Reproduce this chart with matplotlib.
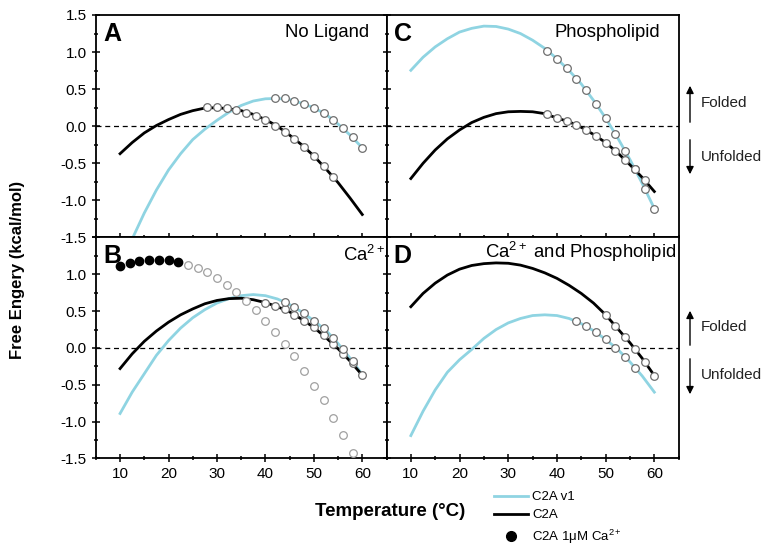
import numpy as np
import matplotlib.pyplot as plt
from matplotlib.lines import Line2D
from matplotlib.patches import FancyArrowPatch
from matplotlib.ticker import MultipleLocator

plt.rcParams['font.family'] = ['Liberation Sans', 'DejaVu Sans']
plt.rcParams['mathtext.fontset'] = 'custom'
plt.rcParams['mathtext.rm'] = 'Liberation Sans'
plt.rcParams['mathtext.it'] = 'Liberation Sans:italic'
plt.rcParams['mathtext.bf'] = 'Liberation Sans:bold'

blue = '#8fd4e2'
black = '#000000'
ring = '#6e6e6e'
ring_light = '#a0a0a0'

# ---- fitted curves (sampled every 2.5 degC) ----
T = [10, 12.5, 15, 17.5, 20, 22.5, 25, 27.5, 30, 32.5, 35,
     37.5, 40, 42.5, 45, 47.5, 50, 52.5, 55, 57.5, 60]

a_v1 = [-1.95, -1.52, -1.17, -0.86, -0.59, -0.37, -0.18, -0.04, 0.08, 0.19, 0.28,
        0.34, 0.37, 0.375, 0.36, 0.31, 0.25, 0.16, 0.03, -0.12, -0.29]
a_wt = [-0.37, -0.22, -0.09, 0.01, 0.09, 0.16, 0.21, 0.245, 0.25, 0.235, 0.21,
        0.16, 0.09, 0.0, -0.12, -0.25, -0.40, -0.575, -0.76, -0.97, -1.19]

b_v1 = [-0.89, -0.60, -0.35, -0.10, 0.10, 0.27, 0.41, 0.52, 0.61, 0.67, 0.71,
        0.725, 0.71, 0.665, 0.59, 0.49, 0.37, 0.24, 0.06, -0.14, -0.36]
b_wt = [-0.28, -0.08, 0.09, 0.23, 0.35, 0.45, 0.53, 0.60, 0.645, 0.67, 0.675,
        0.655, 0.616, 0.56, 0.49, 0.39, 0.28, 0.14, -0.01, -0.18, -0.37]

c_v1 = [0.754, 0.93, 1.07, 1.18, 1.27, 1.32, 1.35, 1.345, 1.31, 1.25, 1.16,
        1.05, 0.91, 0.75, 0.57, 0.35, 0.11, -0.16, -0.45, -0.77, -1.11]
c_wt = [-0.705, -0.50, -0.32, -0.17, -0.05, 0.05, 0.12, 0.17, 0.195, 0.20, 0.195,
        0.17, 0.11, 0.06, -0.015, -0.11, -0.22, -0.36, -0.52, -0.69, -0.88]

d_v1 = [-1.19, -0.86, -0.57, -0.33, -0.16, -0.02, 0.13, 0.25, 0.34, 0.40, 0.44,
        0.45, 0.44, 0.40, 0.33, 0.235, 0.116, -0.02, -0.19, -0.38, -0.60]
d_wt = [0.56, 0.74, 0.88, 0.99, 1.07, 1.12, 1.145, 1.155, 1.15, 1.125, 1.08,
        1.02, 0.945, 0.85, 0.74, 0.61, 0.45, 0.26, 0.07, -0.14, -0.375]

# ---- measured points ----
a_wt_T = [28, 30, 32, 34, 36, 38, 40, 42, 44, 46, 48, 50, 52, 54]
a_wt_G = [0.254, 0.254, 0.241, 0.219, 0.183, 0.143, 0.085, 0.01, -0.08, -0.17,
          -0.28, -0.40, -0.54, -0.68]
a_v1_T = [42, 44, 46, 48, 50, 52, 54, 56, 58, 60]
a_v1_G = [0.375, 0.375, 0.344, 0.30, 0.25, 0.174, 0.089, -0.027, -0.147, -0.29]

b_ca_T = [10, 12, 14, 16, 18, 20, 22]
b_ca_G = [1.116, 1.152, 1.183, 1.196, 1.196, 1.188, 1.17]
b_ca_open_T = [24, 26, 28, 30, 32, 34, 36, 38, 40, 42, 44, 46, 48, 50, 52, 54, 56, 58]
b_ca_open_G = [1.13, 1.085, 1.03, 0.95, 0.86, 0.76, 0.64, 0.51, 0.37, 0.22, 0.06,
               -0.11, -0.31, -0.51, -0.71, -0.95, -1.18, -1.43]
b_wt_T = [40, 42, 44, 46, 48, 50, 52, 54, 56, 58, 60]
b_wt_G = [0.616, 0.57, 0.527, 0.45, 0.37, 0.28, 0.17, 0.058, -0.076, -0.21, -0.366]
b_v1_T = [44, 46, 48, 50, 52, 54, 56, 58]
b_v1_G = [0.62, 0.56, 0.48, 0.37, 0.27, 0.13, -0.02, -0.18]

c_v1_T = [38, 40, 42, 44, 46, 48, 50, 52, 54, 56, 58, 60]
c_v1_G = [1.02, 0.91, 0.78, 0.64, 0.49, 0.30, 0.11, -0.10, -0.33, -0.58, -0.84, -1.11]
c_wt_T = [38, 40, 42, 44, 46, 48, 50, 52, 54, 56, 58]
c_wt_G = [0.165, 0.11, 0.076, 0.018, -0.05, -0.13, -0.22, -0.33, -0.46, -0.58, -0.73]

d_wt_T = [50, 52, 54, 56, 58, 60]
d_wt_G = [0.45, 0.295, 0.147, -0.01, -0.19, -0.375]
d_v1_T = [44, 46, 48, 50, 52, 54, 56]
d_v1_G = [0.36, 0.295, 0.214, 0.116, 0.004, -0.12, -0.27]

yticks = [-1.5, -1.0, -0.5, 0.0, 0.5, 1.0, 1.5]
ytick_labels = ['-1.5', '-1.0', '-0.5', '0.0', '0.5', '1.0', '1.5']

fig = plt.figure(figsize=(7.73, 5.49), dpi=100)
L, M, R = 0.124, 0.500, 0.878
B0, M2, T0 = 0.165, 0.5674, 0.9727
axA = fig.add_axes([L, M2, M - L, T0 - M2])
axB = fig.add_axes([L, B0, M - L, M2 - B0])
axC = fig.add_axes([M, M2, R - M, T0 - M2])
axD = fig.add_axes([M, B0, R - M, M2 - B0])


def open_pts(ax, x, y, ec=ring):
    ax.plot(x, y, 'o', ms=5.5, mfc='white', mec=ec, mew=0.9, ls='none', zorder=4)


def style(ax, xlabels, ylabels):
    ax.set_xlim(5, 65)
    ax.set_ylim(-1.5, 1.5)
    ax.axhline(0, color='black', lw=0.9, ls=(0, (4, 3)), zorder=1)
    ax.xaxis.set_major_locator(MultipleLocator(10))
    ax.xaxis.set_minor_locator(MultipleLocator(5))
    ax.yaxis.set_major_locator(MultipleLocator(0.5))
    ax.yaxis.set_minor_locator(MultipleLocator(0.25))
    ax.tick_params(which='both', direction='inout', width=1.1, labelsize=11)
    ax.tick_params(which='major', length=6)
    ax.tick_params(which='minor', length=3.5)
    for s in ax.spines.values():
        s.set_linewidth(1.3)
    if not xlabels:
        ax.tick_params(labelbottom=False)
    else:
        ax.set_xticks([10, 20, 30, 40, 50, 60])
    if not ylabels:
        ax.tick_params(labelleft=False)
    else:
        ax.set_yticks(yticks)
        ax.set_yticklabels(ytick_labels)


# A
axA.plot(T, a_v1, color=blue, lw=2, zorder=2)
axA.plot(T, a_wt, color=black, lw=2, zorder=3)
open_pts(axA, a_wt_T, a_wt_G)
open_pts(axA, a_v1_T, a_v1_G)
style(axA, False, True)

# B
axB.plot(T, b_v1, color=blue, lw=2, zorder=2)
axB.plot(T, b_wt, color=black, lw=2, zorder=3)
open_pts(axB, b_ca_open_T, b_ca_open_G, ec=ring_light)
open_pts(axB, b_wt_T, b_wt_G)
open_pts(axB, b_v1_T, b_v1_G)
axB.plot(b_ca_T, b_ca_G, 'o', ms=6, color='black', ls='none', zorder=5)
style(axB, True, True)
axB.set_yticklabels(ytick_labels[:-1] + [''])

# C
axC.plot(T, c_v1, color=blue, lw=2, zorder=2)
axC.plot(T, c_wt, color=black, lw=2, zorder=3)
open_pts(axC, c_wt_T, c_wt_G)
open_pts(axC, c_v1_T, c_v1_G)
style(axC, False, False)

# D
axD.plot(T, d_v1, color=blue, lw=2, zorder=2)
axD.plot(T, d_wt, color=black, lw=2, zorder=3)
open_pts(axD, d_wt_T, d_wt_G)
open_pts(axD, d_v1_T, d_v1_G)
style(axD, True, False)

# panel letters and titles
for ax, letter in [(axA, 'A'), (axB, 'B'), (axC, 'C'), (axD, 'D')]:
    ax.text(0.025, 0.97, letter, transform=ax.transAxes, fontsize=18,
            fontweight='bold', ha='left', va='top')
axA.text(0.94, 0.92, 'No Ligand', transform=axA.transAxes, fontsize=13.3,
         ha='right', va='center')
axB.text(0.995, 0.92, 'Ca$^{2+}$', transform=axB.transAxes, fontsize=13.3,
         ha='right', va='center')
axC.text(0.935, 0.92, 'Phospholipid', transform=axC.transAxes, fontsize=13.3,
         ha='right', va='center')
axD.text(0.99, 0.935, 'Ca$^{2+}$ and Phospholipid', transform=axD.transAxes,
         fontsize=13.3, ha='right', va='center')

fig.text(0.022, 0.508, 'Free Engery (kcal/mol)', rotation=90, fontsize=12,
         fontweight='bold', ha='center', va='center')
fig.text(0.505, 0.068, 'Temperature (\u00b0C)', fontsize=13.5,
         fontweight='bold', ha='center', va='center')

# Folded / Unfolded arrows
W, H = 773, 549
for up_top, up_bot, dn_top, dn_bot, fy, uy in [(83, 125, 137, 177, 103, 157),
                                              (308, 348, 356, 397, 327, 375)]:
    x = 690 / W
    fig.add_artist(FancyArrowPatch(
        (x, 1 - up_bot / H), (x, 1 - up_top / H), transform=fig.transFigure,
        arrowstyle='-|>', mutation_scale=11, lw=1, color='black'))
    fig.add_artist(FancyArrowPatch(
        (x, 1 - dn_top / H), (x, 1 - dn_bot / H), transform=fig.transFigure,
        arrowstyle='-|>', mutation_scale=11, lw=1, color='black'))
    fig.text(701 / W, 1 - fy / H, 'Folded', fontsize=11, ha='left', va='center',
             color='#222222')
    fig.text(701 / W, 1 - uy / H, 'Unfolded', fontsize=11, ha='left', va='center',
             color='#222222')

handles = [Line2D([], [], color=blue, lw=2),
           Line2D([], [], color=black, lw=2),
           Line2D([], [], color='black', marker='o', ms=7, ls='none')]
fig.legend(handles, ['C2A v1', 'C2A', 'C2A 1\u03bcM Ca$^{2+}$'],
           loc='upper left', bbox_to_anchor=(494 / W, 1 - 491 / H),
           frameon=False, fontsize=9.5, handlelength=2.6, handletextpad=0.3,
           labelspacing=0.45, borderpad=0, borderaxespad=0)

fig.savefig('out.png', dpi=100)
